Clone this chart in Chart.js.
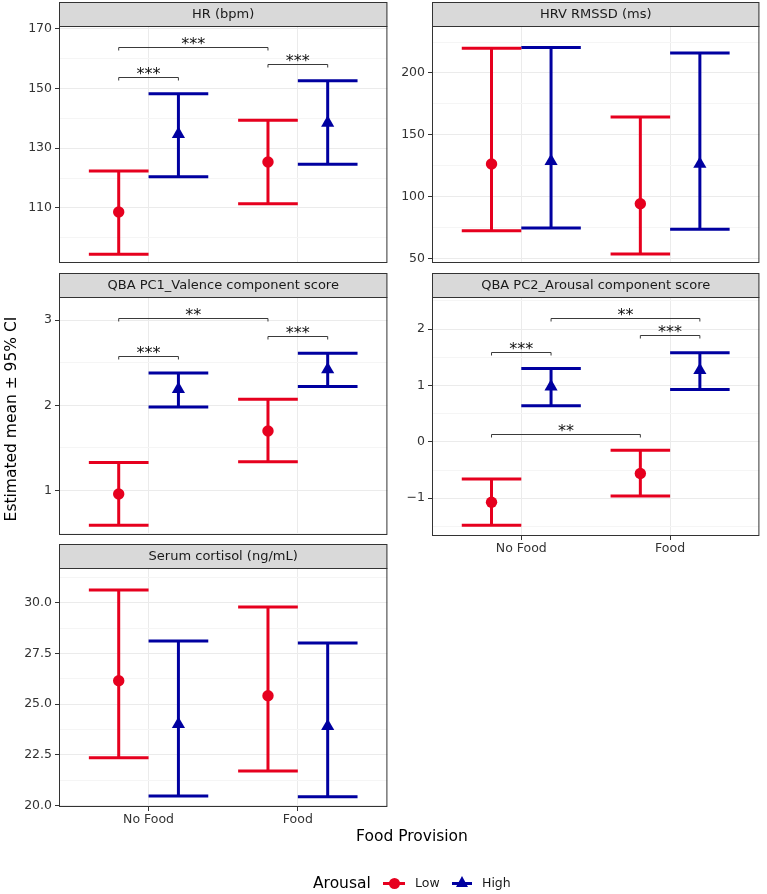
<!DOCTYPE html>
<html>
<head>
<meta charset="utf-8">
<script src="https://cdn.jsdelivr.net/npm/chart.js@4.4.0/dist/chart.umd.min.js"></script>
<style>
  body { margin: 0; background: #fff; width: 767px; height: 894px; position: relative; overflow: hidden;
         font-family: "DejaVu Sans", sans-serif; color: #000; }
  canvas { position: absolute; }
  .txt { position: absolute; white-space: nowrap; }
</style>
</head>
<body>
<canvas id="hr" width="395" height="273" style="left:0;top:2px"></canvas>
<canvas id="hrv" width="375" height="273" style="left:392px;top:2px"></canvas>
<canvas id="pc1" width="395" height="274" style="left:0;top:273px"></canvas>
<canvas id="pc2" width="375" height="285" style="left:392px;top:273px"></canvas>
<canvas id="cort" width="395" height="285" style="left:0;top:544px"></canvas>

<div class="txt" style="left:-139px;top:410px;width:300px;text-align:center;font-size:15.5px;line-height:18px;transform:rotate(-90deg)">Estimated mean ± 95% CI</div>
<div class="txt" style="left:312px;top:827px;width:200px;text-align:center;font-size:15.5px;line-height:18px">Food Provision</div>

<div class="txt" style="left:313px;top:874px;font-size:15.5px;line-height:18px">Arousal</div>
<div style="position:absolute;left:383px;top:882px;width:22px;height:3px;background:#E6001E"></div>
<div style="position:absolute;left:388.5px;top:877.5px;width:11px;height:11px;border-radius:50%;background:#E6001E"></div>
<div class="txt" style="left:415px;top:875px;font-size:12.5px;line-height:16px;color:#1a1a1a">Low</div>
<div style="position:absolute;left:452px;top:882px;width:20px;height:3px;background:#0000A0"></div>
<div style="position:absolute;left:455.5px;top:876px;width:0;height:0;border-left:6.5px solid transparent;border-right:6.5px solid transparent;border-bottom:11px solid #0000A0"></div>
<div class="txt" style="left:482px;top:875px;font-size:12.5px;line-height:16px;color:#1a1a1a">High</div>

<script>
// Food provision x Arousal, estimated means with 95% CI
const groups = ['No Food', 'Food'];

// HR (bpm)
const hrLowMean = [108.6, 125.4];
const hrLowLower = [94.4, 111.4];
const hrLowUpper = [122.4, 139.4];
const hrHighMean = [134.7, 138.5];
const hrHighLower = [120.4, 124.6];
const hrHighUpper = [148.3, 152.6];
const hrTicks = [110, 130, 150, 170];
const hrTickLabels = ['110', '130', '150', '170'];
const hrSigStart = ['No Food:Low', 'No Food:Low', 'Food:Low'];
const hrSigEnd = ['Food:Low', 'No Food:High', 'Food:High'];
const hrSigY = [164, 154, 158.2];
const hrSigText = ['***', '***', '***'];

// HRV RMSSD (ms)
const hrvLowMean = [126.3, 94.1];
const hrvLowLower = [72.4, 53.5];
const hrvLowUpper = [220, 164.3];
const hrvHighMean = [128.5, 126.3];
const hrvHighLower = [74.6, 73.5];
const hrvHighUpper = [220.7, 216.2];
const hrvTicks = [50, 100, 150, 200];
const hrvTickLabels = ['50', '100', '150', '200'];

// QBA PC1_Valence
const pc1LowMean = [0.96, 1.70];
const pc1LowLower = [0.594, 1.34];
const pc1LowUpper = [1.33, 2.07];
const pc1HighMean = [2.19, 2.42];
const pc1HighLower = [1.98, 2.22];
const pc1HighUpper = [2.38, 2.61];
const pc1Ticks = [1, 2, 3];
const pc1TickLabels = ['1', '2', '3'];
const pc1SigStart = ['No Food:Low', 'No Food:Low', 'Food:Low'];
const pc1SigEnd = ['Food:Low', 'No Food:High', 'Food:High'];
const pc1SigY = [3.02, 2.58, 2.81];
const pc1SigText = ['**', '***', '***'];

// QBA PC2_Arousal
const pc2LowMean = [-1.07, -0.56];
const pc2LowLower = [-1.48, -0.96];
const pc2LowUpper = [-0.66, -0.15];
const pc2HighMean = [0.98, 1.27];
const pc2HighLower = [0.64, 0.93];
const pc2HighUpper = [1.30, 1.58];
const pc2Ticks = [-1, 0, 1, 2];
const pc2TickLabels = ['\u22121', '0', '1', '2'];
const pc2SigStart = ['No Food:High', 'Food:Low', 'No Food:Low', 'No Food:Low'];
const pc2SigEnd = ['Food:High', 'Food:High', 'No Food:High', 'Food:Low'];
const pc2SigY = [2.2, 1.89, 1.59, 0.14];
const pc2SigText = ['**', '***', '***', '**'];

// Serum cortisol (ng/mL)
const cortLowMean = [26.15, 25.41];
const cortLowLower = [22.35, 21.69];
const cortLowUpper = [30.63, 29.79];
const cortHighMean = [24.0, 23.9];
const cortHighLower = [20.46, 20.43];
const cortHighUpper = [28.11, 28.01];
const cortTicks = [20, 22.5, 25, 27.5, 30];
const cortTickLabels = ['20.0', '22.5', '25.0', '27.5', '30.0'];

const RED = '#E6001E', BLUE = '#0000A0';
const dodge = 0.2, capHalf = 0.2;
const FONT = 'DejaVu Sans';

function xOf(key) {
  const [g, a] = key.split(':');
  return groups.indexOf(g) + 1 + (a === 'Low' ? -dodge : dodge);
}

function meanPoints(means, level) {
  return means.map((m, i) => ({ x: xOf(groups[i] + ':' + level), y: m }));
}

// errorbar as one path with gaps : top cap, stem, bottom cap
function barPoints(lower, upper, level) {
  const pts = [];
  lower.forEach((lo, i) => {
    const x = xOf(groups[i] + ':' + level);
    const hi = upper[i];
    pts.push({ x: x - capHalf, y: hi }, { x: x + capHalf, y: hi }, { x: x, y: null });
    pts.push({ x: x, y: hi }, { x: x, y: lo }, { x: x, y: null });
    pts.push({ x: x - capHalf, y: lo }, { x: x + capHalf, y: lo }, { x: x, y: null });
  });
  return pts;
}

const facetPlugin = {
  id: 'facet',
  afterDatasetsDraw(chart, args, opts) {
    const { ctx } = chart;
    const xs = chart.scales.x, ys = chart.scales.y;
    ctx.save();
    // significance brackets
    (opts.sigY || []).forEach((yv, i) => {
      const x1 = xs.getPixelForValue(xOf(opts.sigStart[i]));
      const x2 = xs.getPixelForValue(xOf(opts.sigEnd[i]));
      const y = Math.round(ys.getPixelForValue(yv)) + 0.5;
      ctx.strokeStyle = '#3a3a3a';
      ctx.lineWidth = 1;
      ctx.beginPath();
      ctx.moveTo(x1, y + 3);
      ctx.lineTo(x1, y);
      ctx.lineTo(x2, y);
      ctx.lineTo(x2, y + 3);
      ctx.stroke();
      ctx.fillStyle = '#111';
      ctx.font = '16px "' + FONT + '"';
      ctx.textAlign = 'center';
      ctx.textBaseline = 'alphabetic';
      ctx.fillText(opts.sigText[i], (x1 + x2) / 2, y + 1.5);
    });
    ctx.restore();
  },
  afterDraw(chart, args, opts) {
    const { ctx, chartArea: a } = chart;
    const h = 24;
    ctx.save();
    ctx.fillStyle = '#D9D9D9';
    ctx.fillRect(a.left, a.top - h, a.right - a.left, h);
    ctx.strokeStyle = '#333';
    ctx.lineWidth = 1;
    ctx.strokeRect(a.left + 0.5, a.top - h + 0.5, a.right - a.left - 1, h);
    ctx.strokeRect(a.left + 0.5, a.top + 0.5, a.right - a.left - 1, a.bottom - a.top - 1);
    ctx.fillStyle = '#1A1A1A';
    ctx.font = '13px "' + FONT + '"';
    ctx.textAlign = 'center';
    ctx.textBaseline = 'middle';
    ctx.fillText(opts.title, (a.left + a.right) / 2, a.top - h / 2 + 1);
    ctx.restore();
  }
};

function isMajor(v, majors) {
  return majors.some(m => Math.abs(m - v) < 1e-9);
}

function makePanel(id, p) {
  const step = p.ticks[1] - p.ticks[0];
  const allTicks = [];
  for (let v = p.ticks[0] - step; v <= p.ticks[p.ticks.length - 1] + step + 1e-9; v += step / 2) {
    if (v >= p.yMin - 1e-9 && v <= p.yMax + 1e-9) allTicks.push(+v.toFixed(6));
  }
  return new Chart(document.getElementById(id), {
    type: 'line',
    data: {
      datasets: [
        { label: 'Low', data: meanPoints(p.lowMean, 'Low'), showLine: false, pointStyle: 'circle',
          pointRadius: 5.7, pointBackgroundColor: RED, pointBorderWidth: 0, order: 0 },
        { label: 'High', data: meanPoints(p.highMean, 'High'), showLine: false, pointStyle: 'triangle',
          pointRadius: 7.6, pointBackgroundColor: BLUE, pointBorderWidth: 0, order: 0 },
        { label: 'Low CI', data: barPoints(p.lowLower, p.lowUpper, 'Low'), borderColor: RED, borderWidth: 3,
          borderCapStyle: 'butt', pointRadius: 0, spanGaps: false, tension: 0, order: 1 },
        { label: 'High CI', data: barPoints(p.highLower, p.highUpper, 'High'), borderColor: BLUE, borderWidth: 3,
          borderCapStyle: 'butt', pointRadius: 0, spanGaps: false, tension: 0, order: 1 }
      ]
    },
    options: {
      responsive: false,
      animation: false,
      events: [],
      layout: { padding: { top: 24, right: p.padRight, bottom: p.showX ? 2 : 12, left: 0 } },
      plugins: {
        legend: { display: false },
        tooltip: { enabled: false },
        facet: { title: p.title, sigStart: p.sigStart, sigEnd: p.sigEnd, sigY: p.sigY, sigText: p.sigText }
      },
      scales: {
        x: {
          type: 'linear', min: 0.4, max: 2.6,
          afterBuildTicks: s => { s.ticks = [{ value: 1 }, { value: 2 }]; },
          afterFit: s => { s.height = p.showX ? 20 : 0; },
          ticks: { display: p.showX, autoSkip: false, maxRotation: 0, padding: 1,
                   callback: v => groups[Math.round(v) - 1],
                   color: '#333', font: { family: FONT, size: 12.5 } },
          grid: { color: '#EBEBEB', lineWidth: 1, drawTicks: p.showX, tickLength: 4, tickColor: '#333' },
          border: { display: false }
        },
        y: {
          type: 'linear', min: p.yMin, max: p.yMax,
          afterBuildTicks: s => { s.ticks = allTicks.map(v => ({ value: v })); },
          afterFit: s => { s.width = p.yWidth; },
          ticks: { autoSkip: false, padding: 3,
                   callback: v => isMajor(v, p.ticks) ? p.tickLabels[p.ticks.findIndex(m => Math.abs(m - v) < 1e-9)] : '',
                   color: '#333', font: { family: FONT, size: 12.5 } },
          grid: {
            color: c => isMajor(c.tick.value, p.ticks) ? '#EBEBEB' : '#F5F5F5',
            tickColor: c => isMajor(c.tick.value, p.ticks) ? '#333' : 'rgba(0,0,0,0)',
            lineWidth: 1, tickLength: 4
          },
          border: { display: false }
        }
      }
    },
    plugins: [facetPlugin]
  });
}

makePanel('hr', {
  title: 'HR (bpm)', yMin: 91.5, yMax: 171, ticks: hrTicks, tickLabels: hrTickLabels,
  lowMean: hrLowMean, lowLower: hrLowLower, lowUpper: hrLowUpper,
  highMean: hrHighMean, highLower: hrHighLower, highUpper: hrHighUpper,
  sigStart: hrSigStart, sigEnd: hrSigEnd, sigY: hrSigY, sigText: hrSigText,
  showX: false, yWidth: 59, padRight: 3
});
makePanel('hrv', {
  title: 'HRV RMSSD (ms)', yMin: 46.2, yMax: 238, ticks: hrvTicks, tickLabels: hrvTickLabels,
  lowMean: hrvLowMean, lowLower: hrvLowLower, lowUpper: hrvLowUpper,
  highMean: hrvHighMean, highLower: hrvHighLower, highUpper: hrvHighUpper,
  showX: false, yWidth: 40, padRight: 2
});
makePanel('pc1', {
  title: 'QBA PC1_Valence component score', yMin: 0.48, yMax: 3.27, ticks: pc1Ticks, tickLabels: pc1TickLabels,
  lowMean: pc1LowMean, lowLower: pc1LowLower, lowUpper: pc1LowUpper,
  highMean: pc1HighMean, highLower: pc1HighLower, highUpper: pc1HighUpper,
  sigStart: pc1SigStart, sigEnd: pc1SigEnd, sigY: pc1SigY, sigText: pc1SigText,
  showX: false, yWidth: 59, padRight: 3
});
makePanel('pc2', {
  title: 'QBA PC2_Arousal component score', yMin: -1.67, yMax: 2.57, ticks: pc2Ticks, tickLabels: pc2TickLabels,
  lowMean: pc2LowMean, lowLower: pc2LowLower, lowUpper: pc2LowUpper,
  highMean: pc2HighMean, highLower: pc2HighLower, highUpper: pc2HighUpper,
  sigStart: pc2SigStart, sigEnd: pc2SigEnd, sigY: pc2SigY, sigText: pc2SigText,
  showX: true, yWidth: 40, padRight: 2
});
makePanel('cort', {
  title: 'Serum cortisol (ng/mL)', yMin: 19.92, yMax: 31.71, ticks: cortTicks, tickLabels: cortTickLabels,
  lowMean: cortLowMean, lowLower: cortLowLower, lowUpper: cortLowUpper,
  highMean: cortHighMean, highLower: cortHighLower, highUpper: cortHighUpper,
  showX: true, yWidth: 59, padRight: 3
});
</script>
</body>
</html>
